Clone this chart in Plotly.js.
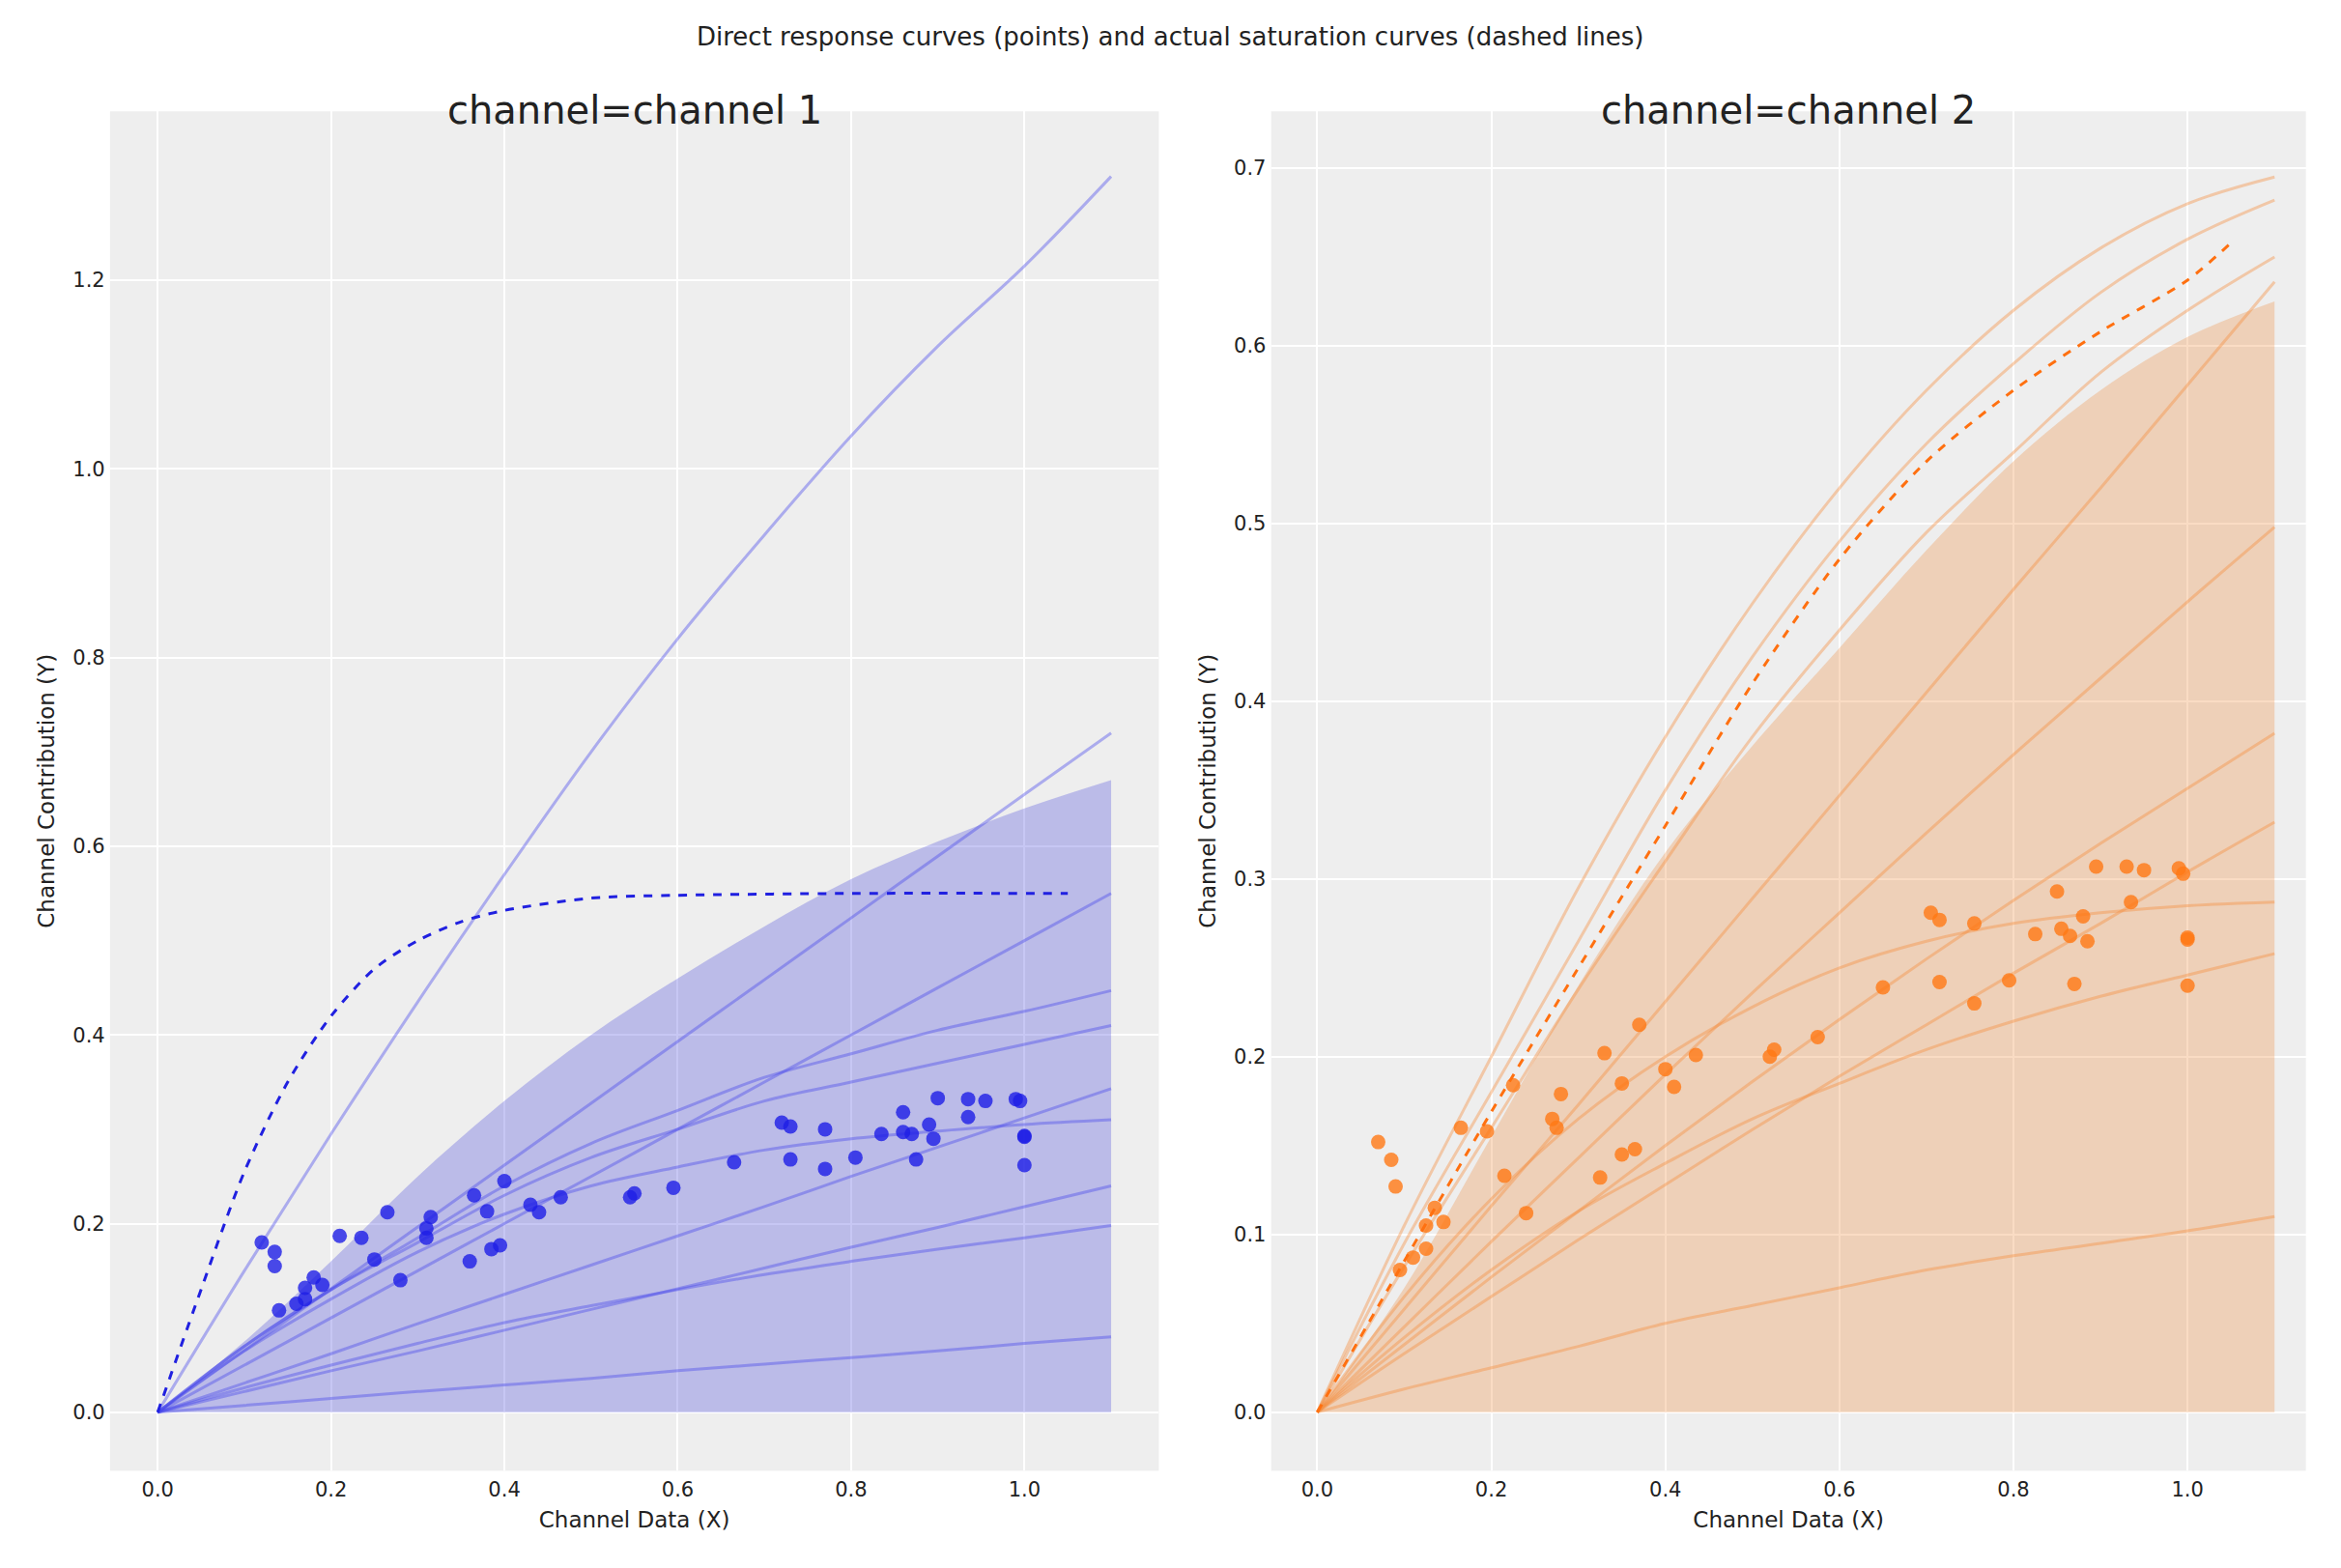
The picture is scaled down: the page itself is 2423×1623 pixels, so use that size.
<!DOCTYPE html>
<html><head><meta charset="utf-8">
<script src="https://cdn.plot.ly/plotly-3.0.1.min.js"></script>
<style>body{margin:0}</style></head>
<body><div id="chart" style="width:2423px;height:1623px"></div>
<script>
// shared x grid for sample curves and bands
const gridX = [0, 0.1, 0.2, 0.3, 0.4, 0.5, 0.6, 0.7, 0.8, 0.9, 1.0, 1.1];

// channel 1
const ch1Curves = [
  [0, 0.15, 0.295, 0.435, 0.57, 0.7, 0.82, 0.93, 1.035, 1.13, 1.215, 1.31],
  [0, 0.0655, 0.131, 0.1965, 0.262, 0.3275, 0.393, 0.4585, 0.524, 0.5895, 0.655, 0.72],
  [0, 0.05, 0.1, 0.15, 0.2, 0.25, 0.3, 0.35, 0.4, 0.45, 0.5, 0.55],
  [0, 0.07, 0.13, 0.185, 0.24, 0.285, 0.32, 0.355, 0.38, 0.405, 0.425, 0.447],
  [0, 0.07, 0.13, 0.18, 0.23, 0.27, 0.3, 0.33, 0.35, 0.37, 0.39, 0.41],
  [0, 0.031, 0.062, 0.094, 0.125, 0.156, 0.187, 0.218, 0.25, 0.281, 0.312, 0.343],
  [0, 0.065, 0.12, 0.17, 0.21, 0.24, 0.26, 0.278, 0.29, 0.298, 0.305, 0.31],
  [0, 0.022, 0.044, 0.065, 0.087, 0.109, 0.131, 0.153, 0.175, 0.196, 0.218, 0.24],
  [0, 0.026, 0.05, 0.073, 0.095, 0.113, 0.13, 0.146, 0.16, 0.173, 0.185, 0.198],
  [0, 0.0073, 0.0146, 0.022, 0.029, 0.036, 0.044, 0.051, 0.058, 0.065, 0.073, 0.08]
];
const ch1BandUpper = [0, 0.075, 0.16, 0.25, 0.33, 0.4, 0.46, 0.515, 0.565, 0.605, 0.64, 0.67];
const ch1BandLower = [0, 0, 0, 0, 0, 0, 0, 0, 0, 0, 0, 0];
const ch1TrueX = [0, 0.05, 0.1, 0.15, 0.2, 0.25, 0.3, 0.35, 0.4, 0.5, 0.6, 0.8, 1.05];
const ch1TrueY = [0, 0.13, 0.255, 0.35, 0.42, 0.47, 0.5, 0.52, 0.532, 0.545, 0.548, 0.55, 0.55];
const ch1PtsX = [0.12,0.135,0.135,0.14,0.16,0.17,0.17,0.18,0.19,0.21,0.235,0.25,0.265,0.28,0.31,0.31,0.315,0.36,0.365,0.38,0.385,0.395,0.4,0.43,0.44,0.465,0.545,0.55,0.595,0.665,0.72,0.73,0.73,0.77,0.77,0.805,0.835,0.86,0.86,0.87,0.875,0.89,0.895,0.9,0.935,0.935,0.955,0.99,0.995,1,1,1];
const ch1PtsY = [0.18,0.17,0.155,0.108,0.115,0.12,0.132,0.143,0.135,0.187,0.185,0.162,0.212,0.14,0.195,0.185,0.207,0.16,0.23,0.213,0.173,0.177,0.245,0.22,0.212,0.228,0.228,0.232,0.238,0.265,0.307,0.303,0.268,0.3,0.258,0.27,0.295,0.318,0.297,0.295,0.268,0.305,0.29,0.333,0.332,0.313,0.33,0.332,0.33,0.293,0.292,0.262];

// channel 2
const ch2Curves = [
  [0, 0.105, 0.2, 0.295, 0.38, 0.455, 0.52, 0.575, 0.62, 0.655, 0.68, 0.695],
  [0, 0.095, 0.18, 0.265, 0.35, 0.425, 0.49, 0.545, 0.59, 0.63, 0.66, 0.682],
  [0, 0.082, 0.16, 0.238, 0.31, 0.38, 0.44, 0.495, 0.54, 0.585, 0.62, 0.65],
  [0, 0.058, 0.116, 0.173, 0.231, 0.289, 0.347, 0.405, 0.463, 0.52, 0.578, 0.636],
  [0, 0.048, 0.096, 0.143, 0.19, 0.236, 0.281, 0.326, 0.37, 0.413, 0.456, 0.498],
  [0, 0.038, 0.076, 0.113, 0.15, 0.186, 0.221, 0.255, 0.288, 0.32, 0.351, 0.382],
  [0, 0.033, 0.065, 0.097, 0.128, 0.159, 0.189, 0.218, 0.247, 0.275, 0.304, 0.332],
  [0, 0.065, 0.12, 0.165, 0.2, 0.228, 0.25, 0.265, 0.275, 0.281, 0.285, 0.287],
  [0, 0.042, 0.08, 0.113, 0.14, 0.165, 0.185, 0.204, 0.22, 0.234, 0.246, 0.258],
  [0, 0.013, 0.025, 0.037, 0.05, 0.06, 0.07, 0.08, 0.088, 0.095, 0.102, 0.11]
];
const ch2BandUpper = [0, 0.07, 0.155, 0.24, 0.315, 0.375, 0.43, 0.485, 0.535, 0.575, 0.605, 0.625];
const ch2BandLower = [0, 0, 0, 0, 0, 0, 0, 0, 0, 0, 0, 0];
const ch2TrueX = [0, 0.1, 0.2, 0.3, 0.4, 0.5, 0.6, 0.7, 0.8, 0.9, 1.0, 1.05];
const ch2TrueY = [0, 0.085, 0.169, 0.25, 0.33, 0.41, 0.48, 0.535, 0.575, 0.608, 0.637, 0.658];
const ch2PtsX = [0.07,0.085,0.09,0.095,0.11,0.125,0.125,0.135,0.145,0.165,0.195,0.215,0.225,0.24,0.27,0.275,0.28,0.325,0.33,0.35,0.35,0.365,0.37,0.4,0.41,0.435,0.52,0.525,0.575,0.65,0.705,0.715,0.715,0.755,0.755,0.795,0.825,0.85,0.855,0.865,0.87,0.88,0.885,0.895,0.93,0.935,0.95,0.99,0.995,1,1,1];
const ch2PtsY = [0.152,0.142,0.127,0.08,0.087,0.105,0.092,0.115,0.107,0.16,0.158,0.133,0.184,0.112,0.165,0.16,0.179,0.132,0.202,0.185,0.145,0.148,0.218,0.193,0.183,0.201,0.2,0.204,0.211,0.239,0.281,0.277,0.242,0.275,0.23,0.243,0.269,0.293,0.272,0.268,0.241,0.279,0.265,0.307,0.307,0.287,0.305,0.306,0.303,0.267,0.266,0.24];

function panel(xa, ya, curves, up, lo, tx, ty, px, py, dot, dash, line, fill) {
  const t = [];
  t.push({x: gridX, y: lo, xaxis: xa, yaxis: ya, mode: 'lines', line: {width: 0}, hoverinfo: 'skip'});
  t.push({x: gridX, y: up, xaxis: xa, yaxis: ya, mode: 'lines', fill: 'tonexty', fillcolor: fill, line: {width: 0, shape: 'spline'}});
  curves.forEach(c => t.push({x: gridX, y: c, xaxis: xa, yaxis: ya, mode: 'lines', line: {color: line, width: 3, shape: 'spline'}}));
  t.push({x: px, y: py, xaxis: xa, yaxis: ya, mode: 'markers', marker: {color: dot, size: 15}});
  t.push({x: tx, y: ty, xaxis: xa, yaxis: ya, mode: 'lines', line: {color: dash, width: 3, dash: 'dash', shape: 'spline', smoothing: 0.8}});
  return t;
}

const data = [
  ...panel('x', 'y', ch1Curves, ch1BandUpper, ch1BandLower, ch1TrueX, ch1TrueY, ch1PtsX, ch1PtsY,
    'rgba(30,30,230,0.8)', '#2020e0', 'rgba(70,70,235,0.4)', 'rgba(70,70,220,0.3)'),
  ...panel('x2', 'y2', ch2Curves, ch2BandUpper, ch2BandLower, ch2TrueX, ch2TrueY, ch2PtsX, ch2PtsY,
    'rgba(255,120,20,0.8)', '#ff7010', 'rgba(245,140,60,0.4)', 'rgba(240,140,60,0.3)')
];

const tickFont = {family: 'DejaVu Sans', size: 21, color: '#222'};
const ax = (dom, range, dtick, title, anchor) => ({
  domain: dom, range: range, dtick: dtick, anchor: anchor, gridcolor: '#fff', gridwidth: 2, zeroline: false,
  showline: false, ticks: 'outside', ticklen: 0, tickfont: tickFont, tickformat: '.1f',
  title: {text: title, font: {family: 'DejaVu Sans', size: 23, color: '#222'}, standoff: 12}
});

const layout = {
  width: 2423, height: 1623, showlegend: false,
  paper_bgcolor: '#fff', plot_bgcolor: '#eeeeee',
  margin: {l: 0, r: 0, t: 0, b: 0},
  font: {family: 'DejaVu Sans'},
  xaxis: ax([0.047, 0.495], [-0.055, 1.155], 0.2, 'Channel Data (X)', 'y'),
  yaxis: ax([0.062, 0.929], [-0.062, 1.379], 0.2, 'Channel Contribution (Y)', 'x'),
  xaxis2: ax([0.543, 0.985], [-0.053, 1.136], 0.2, 'Channel Data (X)', 'y2'),
  yaxis2: ax([0.062, 0.929], [-0.033, 0.732], 0.1, 'Channel Contribution (Y)', 'x2'),
  annotations: [
    {text: 'Direct response curves (points) and actual saturation curves (dashed lines)', xref: 'paper', yref: 'paper',
     x: 0.5, y: 0.987, xanchor: 'center', showarrow: false, font: {size: 26, color: '#222'}},
    {text: 'channel=channel 1', xref: 'paper', yref: 'paper', x: 0.271, y: 0.945, xanchor: 'center', showarrow: false, font: {size: 40, color: '#222'}},
    {text: 'channel=channel 2', xref: 'paper', yref: 'paper', x: 0.764, y: 0.945, xanchor: 'center', showarrow: false, font: {size: 40, color: '#222'}}
  ]
};

Plotly.newPlot('chart', data, layout, {displayModeBar: false});
</script></body></html>
